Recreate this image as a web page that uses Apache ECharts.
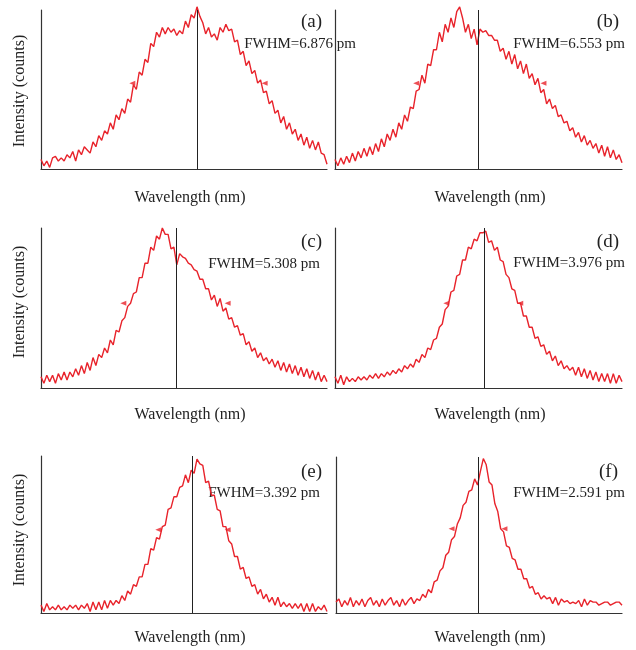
<!DOCTYPE html>
<html><head><meta charset="utf-8">
<script src="https://cdn.jsdelivr.net/npm/echarts@6/dist/echarts.min.js"></script>
<style>html,body{margin:0;padding:0;background:#fff}#c{width:636px;height:650px}</style>
</head><body><div id="c"></div>
<script>
// Normalised intensity (0-100) against sample index (0-99) for each panel
const intensityA = [6,2,5,1,7,8,5,7,5,9, 7,11,5,12,9,14,12,10,17,14, 21,18,24,22,29,25,34,31,38,35,
  44,42,53,50,61,59,69,67,79,77, 86,83,89,85,89,86,88,84,87,85, 93,89,97,95,102,96,92,85,89,83,
  85,81,89,86,91,87,88,80,81,72, 74,65,68,60,62,54,56,48,49,41, 43,35,37,29,33,25,29,22,25,18,
  22,15,20,13,18,12,17,10,9,3];
const intensityB = [6,2,7,3,8,4,10,5,11,7, 13,8,14,9,16,11,19,14,22,18, 25,20,29,25,34,30,39,38,49,50,
  59,54,66,65,75,75,86,80,91,86, 95,89,99,102,95,86,91,82,88,78, 88,86,87,84,84,81,81,74,76,69,
  74,66,72,63,68,60,66,57,60,53, 57,48,50,41,44,38,40,33,34,29, 30,24,26,20,23,17,21,15,18,13,
  16,10,15,8,14,7,12,6,9,4];
const intensityC = [7,3,8,4,8,3,9,5,10,5, 10,7,12,8,14,9,16,11,19,14, 21,19,25,22,30,27,36,35,42,44,
  51,53,59,60,69,69,78,78,88,86, 95,93,100,96,96,87,88,77,84,82, 81,78,77,74,73,68,68,62,62,55,
  58,51,56,48,50,43,44,38,39,33, 34,27,29,23,25,19,22,17,19,15, 18,13,17,11,16,10,15,9,14,8,
  13,7,12,6,11,5,10,4,8,4];
const intensityD = [7,3,8,2,7,4,6,4,7,5, 7,5,8,6,9,6,9,7,10,8, 11,9,12,10,14,12,15,13,18,16,
  21,19,25,24,30,31,38,40,49,51, 60,61,70,71,80,80,88,87,93,92, 97,97,98,91,92,86,88,80,79,71,
  69,62,61,53,53,45,45,38,38,31, 32,26,27,21,23,17,20,14,17,12, 14,11,13,8,13,7,12,6,11,5,
  10,4,9,4,9,3,9,3,8,4];
const intensityE = [5,1,6,2,4,2,5,2,4,2, 5,3,5,2,5,3,6,1,7,2, 7,2,8,3,8,5,8,6,11,8,
  14,12,18,17,23,23,31,31,41,40, 48,47,55,56,66,67,74,74,80,81, 88,83,91,89,98,95,94,83,84,75,
  75,66,65,55,55,46,44,36,36,28, 29,22,23,17,18,12,15,9,12,7, 10,5,10,4,7,4,6,3,6,3,
  6,1,6,1,6,1,4,2,5,1];
const intensityF = [7,9,4,8,5,10,4,8,5,9, 4,8,10,5,8,4,9,5,8,10, 5,8,4,9,5,8,10,6,9,8,
  12,10,15,13,20,21,27,29,37,39, 47,49,57,61,69,71,78,79,86,82, 91,99,95,84,82,70,65,54,52,43,
  42,35,34,28,28,22,22,16,17,12, 13,9,11,9,10,6,10,5,9,7, 8,6,7,6,8,4,9,5,8,7,
  7,5,6,7,7,5,6,7,7,5];

const panelLabels = ['(a)','(b)','(c)','(d)','(e)','(f)'];
const fwhmTexts = ['FWHM=6.876 pm','FWHM=6.553 pm','FWHM=5.308 pm','FWHM=3.976 pm','FWHM=3.392 pm','FWHM=2.591 pm'];
const centerLineX = [54.2, 49.5, 46.8, 51.4, 52.5, 49.1];
const centerLineTop = [100, 100, 100, 100, 100, 100];
const fwhmLeftX = [31.6, 28, 28.5, 38.4, 40.6, 40];
const fwhmRightX = [77.4, 71.9, 64.6, 63.9, 64.6, 58.3];
const fwhmY = [54, 54, 53, 53, 53, 54];
const xAxisName = 'Wavelength (nm)';
const yAxisName = 'Intensity (counts)';

const allIntensity = [intensityA, intensityB, intensityC, intensityD, intensityE, intensityF];

// layout
const grids = [
  {left:41, top:10, width:286, height:159},
  {left:335, top:10, width:287, height:159},
  {left:41, top:228, width:286, height:160},
  {left:335, top:228, width:287, height:160},
  {left:41, top:456, width:286, height:157},
  {left:336, top:457, width:286, height:156}
];
const labelPos = [[322,22],[619,22],[322,242],[619,242],[322,472],[618,472]];
const fwhmPos = [[356,44],[625,44],[320,264],[625,263],[320,493],[625,493]];
const xNamePos = [[190,198],[490,198],[190,415],[490,415],[190,638],[490,638]];
const yNamePos = [[20,91],[20,302],[20,530]];

const FONT = '"Liberation Serif","Times New Roman",serif';
const RED = '#e8232b';

const xAxes = [], yAxes = [], series = [], graphics = [];
grids.forEach((g, k) => {
  xAxes.push({type:'value', gridIndex:k, min:0, max:99, axisLine:{show:true, onZero:false, lineStyle:{color:'#333', width:1.2}},
    axisTick:{show:false}, axisLabel:{show:false}, splitLine:{show:false}});
  yAxes.push({type:'value', gridIndex:k, min:0, max:100, axisLine:{show:true, lineStyle:{color:'#333', width:1.2}},
    axisTick:{show:false}, axisLabel:{show:false}, splitLine:{show:false}});
  const vals = allIntensity[k];
  series.push({type:'line', xAxisIndex:k, yAxisIndex:k, data: vals.map((v,i)=>[i,v]), showSymbol:false, symbol:'none',
    clip:false, lineStyle:{color:RED, width:1.4}, z:3,
    markLine:{silent:true, symbol:'none', label:{show:false}, lineStyle:{color:'#222', width:1, type:'solid'},
      data:[[{coord:[centerLineX[k],0]},{coord:[centerLineX[k],centerLineTop[k]]}]]}});
  series.push({type:'scatter', xAxisIndex:k, yAxisIndex:k, symbol:'triangle', symbolRotate:90, symbolSize:[5,6],
    itemStyle:{color:RED}, z:4,
    data:[[fwhmLeftX[k], fwhmY[k]], [fwhmRightX[k], fwhmY[k]]]});
  graphics.push({type:'text', x:labelPos[k][0], y:labelPos[k][1], style:{text:panelLabels[k], font:'19px '+FONT, fill:'#222', textAlign:'right', textVerticalAlign:'middle'}});
  graphics.push({type:'text', x:fwhmPos[k][0], y:fwhmPos[k][1], style:{text:fwhmTexts[k], font:'15px '+FONT, fill:'#222', textAlign:'right', textVerticalAlign:'middle'}});
  graphics.push({type:'text', x:xNamePos[k][0], y:xNamePos[k][1], style:{text:xAxisName, font:'16px '+FONT, fill:'#222', textAlign:'center', textVerticalAlign:'middle'}});
});
yNamePos.forEach(p => {
  graphics.push({type:'text', x:p[0], y:p[1], rotation:Math.PI/2, style:{text:yAxisName, font:'16px '+FONT, fill:'#222', textAlign:'center', textVerticalAlign:'middle'}});
});

const chart = echarts.init(document.getElementById('c'), null, {renderer:'canvas'});
chart.setOption({animation:false, backgroundColor:'#fff', grid:grids, xAxis:xAxes, yAxis:yAxes, series:series, graphic:graphics});
</script></body></html>
